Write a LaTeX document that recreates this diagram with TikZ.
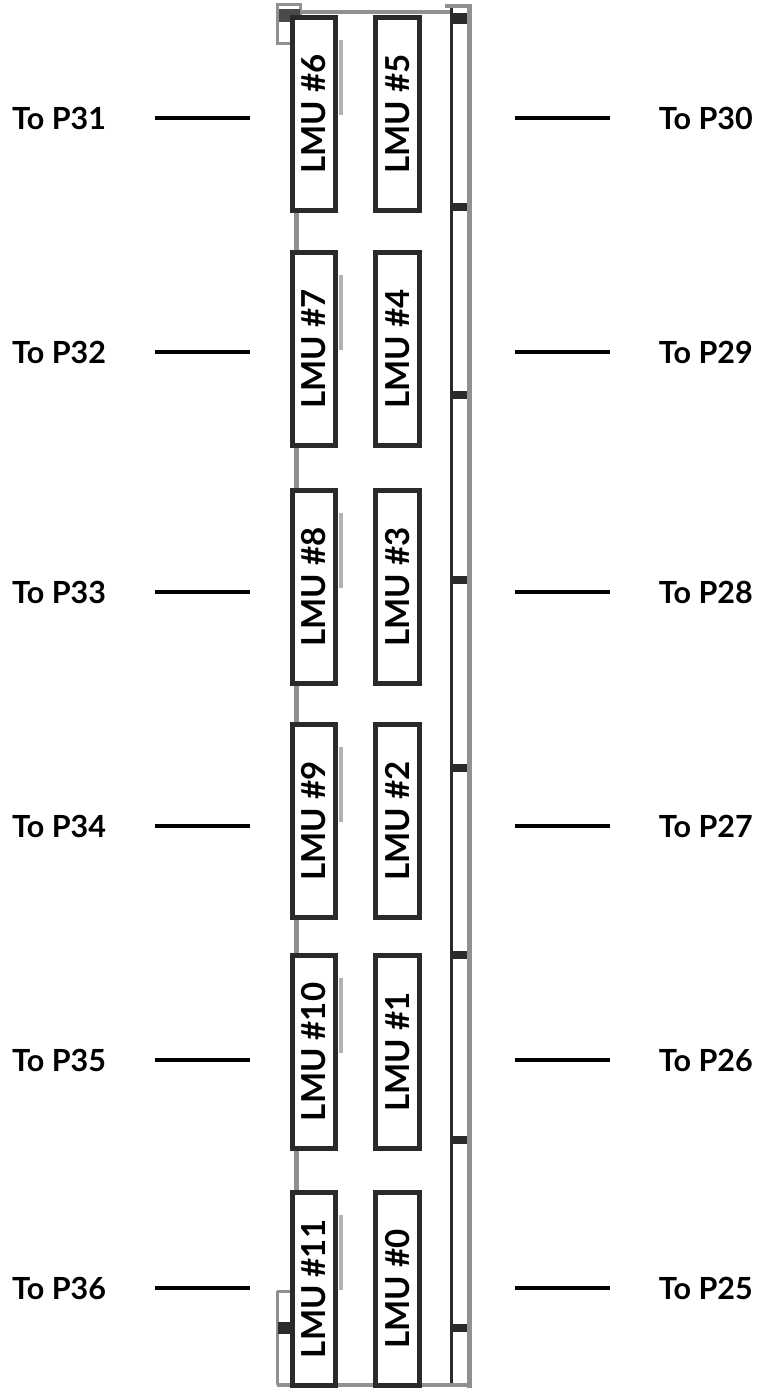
\documentclass[tikz,border=0pt]{standalone}
\usepackage{fontspec}
\setmainfont{Lato}
\definecolor{railgrey}{HTML}{8E9092}
\definecolor{boxdark}{HTML}{2A2A2A}
\definecolor{shadegrey}{HTML}{B0B2B4}
\tikzset{
  lmubox/.style={draw=boxdark, line width=4.8pt, fill=white, rotate=90,
    minimum width=193.5pt, minimum height=43.5pt, inner sep=0pt,
    font=\fontsize{33}{33}\selectfont\bfseries},
  plabel/.style={font=\fontsize{30.5}{30.5}\selectfont\bfseries, inner sep=0pt},
  portline/.style={draw=black, line width=3.2pt},
  rail/.style={draw=railgrey, line width=5pt},
  mark/.style={fill=boxdark, draw=none}
}
\begin{document}
\begin{tikzpicture}[x=1pt,y=-1pt]
\useasboundingbox (0,0) rectangle (760,1388);
\fill[white] (0,0) rectangle (760,1388);
% rack frame
\draw[rail] (296,12) -- (296,1384);
\draw[rail, line width=4pt] (296,12) -- (452,12);
\draw[railgrey, line width=3pt] (277,5) rectangle (300,44);
\fill[boxdark!85] (279,9) rectangle (300,22);
\draw[boxdark, line width=3pt] (451,8) -- (451,1386);
\draw[rail, line width=5pt] (469,5) -- (469,1388);
\draw[railgrey, line width=4pt] (445,6) -- (472,6);
\fill[boxdark] (452,13) rectangle (467,24);
\foreach \yy in {207,395,580,768,955,1140,1328}
  \fill[boxdark] (452,\yy-4) rectangle (467,\yy+4);
\draw[rail, line width=4pt] (277,1385) -- (472,1385);
\draw[railgrey, line width=3pt] (277,1291) -- (277,1385);
\draw[railgrey, line width=3pt] (277,1291) -- (292,1291);
\fill[boxdark] (278,1322) rectangle (290,1334);
% shadows at right of left boxes
\foreach \yy in {15,250,488,722,953,1190}
  \fill[shadegrey] (339,\yy+25) rectangle (343,\yy+100);
% LMU boxes
\node[lmubox] (L6) at (314,114) {LMU \#6};
\node[lmubox] (L7) at (314,349) {LMU \#7};
\node[lmubox] (L8) at (314,587) {LMU \#8};
\node[lmubox] (L9) at (314,821) {LMU \#9};
\node[lmubox] (L10) at (314,1052) {LMU \#10};
\node[lmubox] (L11) at (314,1289) {LMU \#11};
\node[lmubox] (L5) at (397.5,114) {LMU \#5};
\node[lmubox] (L4) at (397.5,349) {LMU \#4};
\node[lmubox] (L3) at (397.5,587) {LMU \#3};
\node[lmubox] (L2) at (397.5,821) {LMU \#2};
\node[lmubox] (L1) at (397.5,1052) {LMU \#1};
\node[lmubox] (L0) at (397.5,1289) {LMU \#0};
% labels and lines
\foreach \nl/\nr/\yy in {31/30/118, 32/29/352, 33/28/592, 34/27/826, 35/26/1060, 36/25/1288}{
  \node[plabel, anchor=west] (P\nl) at (12,\yy) {To P\nl};
  \node[plabel, anchor=east] (P\nr) at (753,\yy) {To P\nr};
  \coordinate (a\nl) at (155,\yy);
  \coordinate (b\nl) at (250,\yy);
  \coordinate (a\nr) at (515,\yy);
  \coordinate (b\nr) at (610,\yy);
  \draw[portline] (a\nl) -- (b\nl);
  \draw[portline] (a\nr) -- (b\nr);
}
\end{tikzpicture}
\end{document}
